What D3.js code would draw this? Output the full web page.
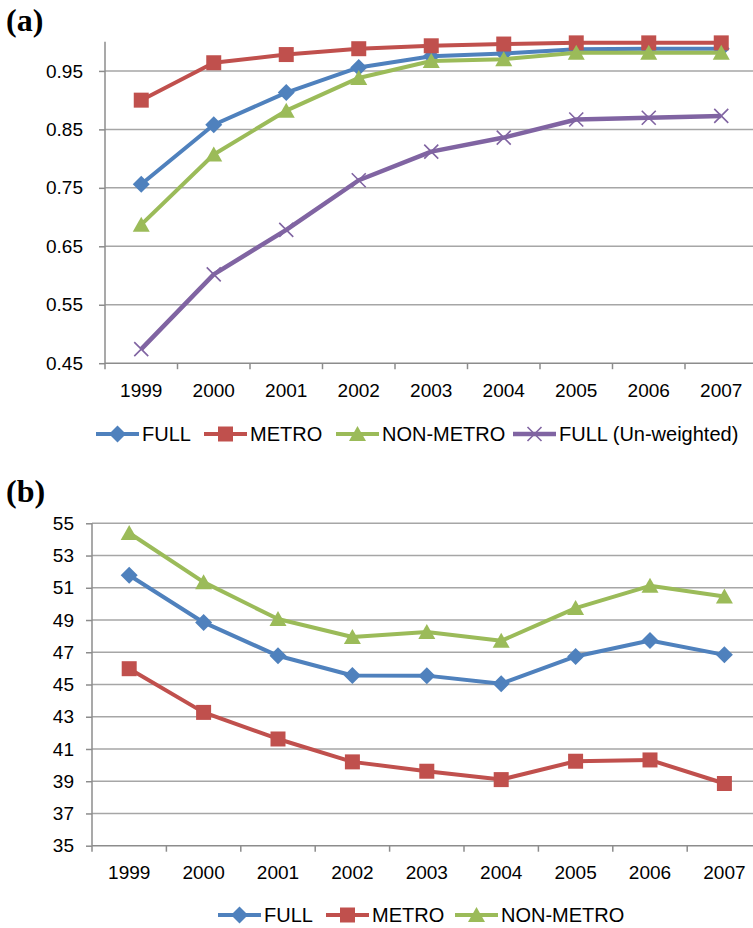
<!DOCTYPE html>
<html>
<head>
<meta charset="utf-8">
<script src="https://cdn.jsdelivr.net/npm/d3@7"></script>
<style>
  body { margin: 0; background: #fff; }
  svg { display: block; font-family: "Liberation Sans", Arial, sans-serif; }
</style>
</head>
<body>
<div class="chart-container"></div>
<script>
// data
const years = ['1999', '2000', '2001', '2002', '2003', '2004', '2005', '2006', '2007'];

const fullA       = [0.756, 0.858, 0.913, 0.956, 0.975, 0.980, 0.987, 0.988, 0.988];
const metroA      = [0.900, 0.964, 0.978, 0.988, 0.993, 0.996, 0.998, 0.998, 0.998];
const nonMetroA   = [0.687, 0.807, 0.882, 0.938, 0.967, 0.970, 0.981, 0.981, 0.981];
const unweightedA = [0.474, 0.602, 0.678, 0.763, 0.812, 0.836, 0.867, 0.870, 0.873];
const yTicksA = [0.45, 0.55, 0.65, 0.75, 0.85, 0.95];

const fullB     = [51.78, 48.85, 46.78, 45.56, 45.55, 45.05, 46.74, 47.73, 46.84];
const metroB    = [45.98, 43.27, 41.62, 40.20, 39.62, 39.10, 40.24, 40.32, 38.86];
const nonMetroB = [54.40, 51.35, 49.06, 47.95, 48.25, 47.71, 49.74, 51.12, 50.46];
const yTicksB = [35, 37, 39, 41, 43, 45, 47, 49, 51, 53, 55];

const colors = { full: '#4f81bd', metro: '#c0504d', nonMetro: '#9bbb59', unweighted: '#8064a2' };

const width = 753, height = 928;

const svg = d3.select('.chart-container')
    .append('svg')
    .attr('width', width)
    .attr('height', height);

// marker shapes
function markerPath(type) {
    if (type === 'square') return 'M-7.5,-7.5H7.5V7.5H-7.5Z';
    if (type === 'diamond') return 'M0,-8.5L8.5,0L0,8.5L-8.5,0Z';
    if (type === 'triangle') return 'M0,-8L8.5,7L-8.5,7Z';
    return 'M-7,-7L7,7M-7,7L7,-7';
}

function drawMarker(g, x, y, type, color) {
    const p = g.append('path')
        .attr('transform', `translate(${x}, ${y})`)
        .attr('d', markerPath(type));
    if (type === 'x') {
        p.attr('fill', 'none').attr('stroke', color).attr('stroke-width', 1.6);
    } else {
        p.attr('fill', color);
    }
}

function drawPanel(cfg) {
    const g = svg.append('g');

    const x = d3.scaleBand()
        .domain(years)
        .range([cfg.left, cfg.right])
        .padding(0);

    const y = d3.scaleLinear()
        .domain(cfg.yDomain)
        .range([cfg.bottom, cfg.top]);

    // horizontal gridlines
    g.append('g')
        .selectAll('line')
        .data(cfg.yTicks.slice(1))
        .enter().append('line')
        .attr('x1', cfg.left)
        .attr('x2', cfg.right)
        .attr('y1', d => y(d))
        .attr('y2', d => y(d))
        .attr('stroke', '#a6a6a6')
        .attr('stroke-width', 1.5);

    // y axis
    const yAxis = d3.axisLeft(y)
        .tickValues(cfg.yTicks)
        .tickSize(6)
        .tickPadding(cfg.yPad)
        .tickFormat(cfg.yFormat);

    const yg = g.append('g')
        .attr('transform', `translate(${cfg.left}, 0)`)
        .call(yAxis);
    yg.select('.domain').remove();
    yg.selectAll('.tick line').attr('stroke', '#8c8c8c').attr('stroke-width', 1.5);
    yg.selectAll('.tick text')
        .attr('fill', '#000')
        .style('font-size', '19px')
        .style('font-family', '"Liberation Sans", Arial, sans-serif');

    g.append('line')
        .attr('x1', cfg.left).attr('x2', cfg.left)
        .attr('y1', cfg.top).attr('y2', cfg.bottom)
        .attr('stroke', '#8c8c8c')
        .attr('stroke-width', 1.5);

    // x axis: labels centred on bands, tick marks between bands
    const xAxis = d3.axisBottom(x).tickSize(0).tickPadding(20);
    const xg = g.append('g')
        .attr('transform', `translate(0, ${cfg.bottom})`)
        .call(xAxis);
    xg.select('.domain').remove();
    xg.selectAll('.tick text')
        .attr('fill', '#000')
        .style('font-size', '19px')
        .style('font-family', '"Liberation Sans", Arial, sans-serif');

    g.append('g')
        .selectAll('line')
        .data(years.concat(['end']))
        .enter().append('line')
        .attr('x1', d => d === 'end' ? cfg.right : x(d))
        .attr('x2', d => d === 'end' ? cfg.right : x(d))
        .attr('y1', cfg.bottom)
        .attr('y2', cfg.bottom + 6)
        .attr('stroke', '#8c8c8c')
        .attr('stroke-width', 1.5);

    g.append('line')
        .attr('x1', cfg.left).attr('x2', cfg.right)
        .attr('y1', cfg.bottom).attr('y2', cfg.bottom)
        .attr('stroke', '#8c8c8c')
        .attr('stroke-width', 1.5);

    // series
    const line = d3.line()
        .x((d, i) => x(years[i]) + x.bandwidth() / 2)
        .y(d => y(d));

    cfg.series.forEach(s => {
        g.append('path')
            .datum(s.values)
            .attr('fill', 'none')
            .attr('stroke', s.color)
            .attr('stroke-width', s.width || 4)
            .attr('stroke-linejoin', 'round')
            .attr('d', line);

        s.values.forEach((v, i) => {
            drawMarker(g, x(years[i]) + x.bandwidth() / 2, y(v), s.marker, s.color);
        });
    });

    // legend
    cfg.series.forEach(s => {
        const lg = g.append('g');
        lg.append('line')
            .attr('x1', s.legendX).attr('x2', s.legendX + 43)
            .attr('y1', cfg.legendY).attr('y2', cfg.legendY)
            .attr('stroke', s.color)
            .attr('stroke-width', s.width || 4);
        drawMarker(lg, s.legendX + 21.5, cfg.legendY, s.marker, s.color);
        lg.append('text')
            .attr('x', s.legendX + 46)
            .attr('y', cfg.legendY)
            .attr('dy', '0.36em')
            .style('font-size', '20px')
            .attr('fill', '#000')
            .text(s.name);
    });

    // panel letter
    svg.append('text')
        .attr('x', 6)
        .attr('y', cfg.labelY)
        .style('font-family', '"Liberation Serif", "Times New Roman", serif')
        .style('font-weight', 'bold')
        .style('font-size', '32px')
        .text(cfg.label);
}

drawPanel({
    label: '(a)',
    labelY: 31,
    left: 105, right: 757.5,
    top: 41.7, bottom: 363.2,
    yDomain: [0.45, 1.0],
    yTicks: yTicksA,
    yPad: 16,
    yFormat: d3.format('.2f'),
    legendY: 434,
    series: [
        { name: 'FULL', values: fullA, color: colors.full, marker: 'diamond', legendX: 96 },
        { name: 'METRO', values: metroA, color: colors.metro, marker: 'square', legendX: 204 },
        { name: 'NON-METRO', values: nonMetroA, color: colors.nonMetro, marker: 'triangle', legendX: 336 },
        { name: 'FULL (Un-weighted)', values: unweightedA, color: colors.unweighted, marker: 'x', legendX: 513, width: 4.5 }
    ]
});

drawPanel({
    label: '(b)',
    labelY: 502,
    left: 92, right: 761.6,
    top: 523.3, bottom: 845.7,
    yDomain: [35, 55],
    yTicks: yTicksB,
    yPad: 12,
    yFormat: d3.format('d'),
    legendY: 915,
    series: [
        { name: 'FULL', values: fullB, color: colors.full, marker: 'diamond', legendX: 218 },
        { name: 'METRO', values: metroB, color: colors.metro, marker: 'square', legendX: 326 },
        { name: 'NON-METRO', values: nonMetroB, color: colors.nonMetro, marker: 'triangle', legendX: 455 }
    ]
});
</script>
</body>
</html>
